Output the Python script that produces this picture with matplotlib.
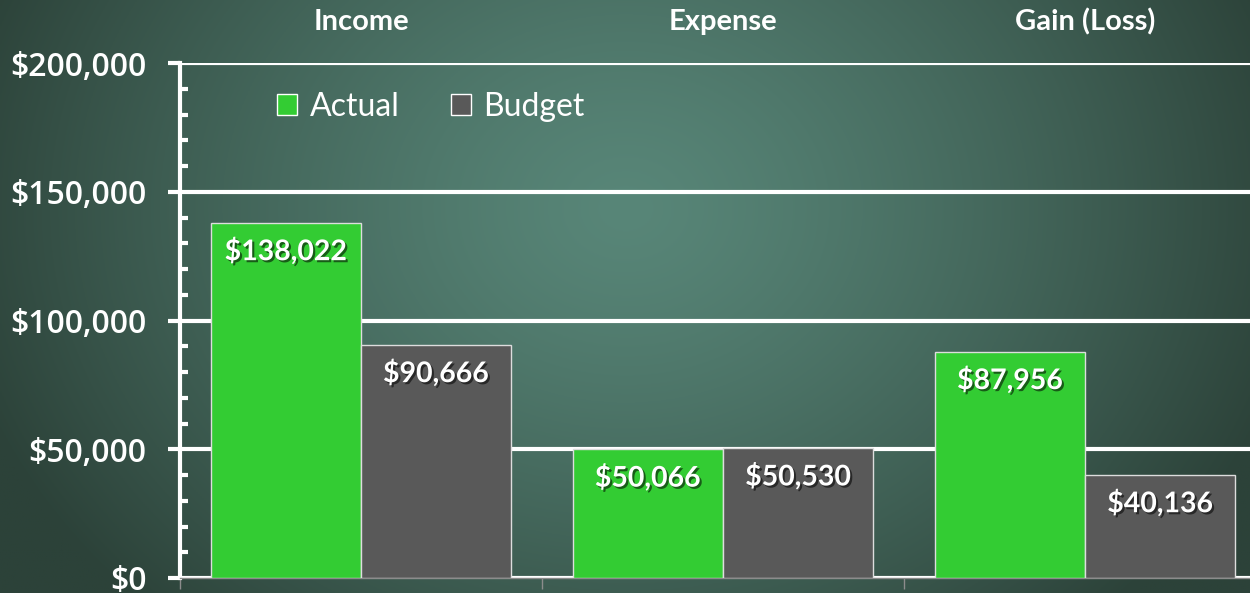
import numpy as np
import matplotlib.pyplot as plt
import matplotlib.patheffects as pe
from matplotlib.ticker import FuncFormatter, MultipleLocator

CATEGORIES = ["Income", "Expense", "Gain (Loss)"]
ACTUAL = [138022, 50066, 87956]
BUDGET = [90666, 50530, 40136]

GREEN = "#33CC33"
GREY = "#595959"
FONT = "Lato"


def draw_background(fig):
    # radial glow like the slide background
    bg = fig.add_axes([0, 0, 1, 1], zorder=-10)
    h, w = 300, 630
    yy, xx = np.mgrid[0:h, 0:w]
    r = np.sqrt(((xx - w * 0.5) / (w * 0.55)) ** 2 + ((yy - h * 0.35) / (h * 0.95)) ** 2)
    r = np.clip(r, 0, 1)
    inner = np.array([0x58, 0x86, 0x78]) / 255
    outer = np.array([0x2C, 0x42, 0x39]) / 255
    img = inner + (outer - inner) * r[..., None] ** 1.3
    bg.imshow(img, aspect="auto", extent=[0, 1, 0, 1], origin="upper")
    bg.axis("off")


def plot_results():
    fig = plt.figure(figsize=(12.5, 5.93), dpi=100)
    draw_background(fig)
    ax = fig.add_axes([0.144, 0.0253, 0.869, 0.8684])
    ax.patch.set_alpha(0)

    x = np.arange(len(CATEGORIES))
    width = 0.415
    bars_a = ax.bar(x - width / 2, ACTUAL, width, color=GREEN, edgecolor="#DDDDDD",
                    linewidth=1, label="Actual", zorder=3)
    bars_b = ax.bar(x + width / 2, BUDGET, width, color=GREY, edgecolor="#DDDDDD",
                    linewidth=1, label="Budget", zorder=3)

    shadow = [pe.SimplePatchShadow(offset=(1.5, -1.5), shadow_rgbFace="black", alpha=0.55),
              pe.Normal()]
    for bars in (bars_a, bars_b):
        for b in bars:
            ax.annotate(f"${b.get_height():,.0f}", (b.get_x() + b.get_width() / 2, b.get_height()),
                        xytext=(0, -20.5), textcoords="offset points", ha="center", va="center",
                        color="white", fontsize=20.5, fontweight="bold", family=FONT,
                        path_effects=shadow, zorder=5)

    ax.set_xlim(-0.5, 2.5)
    ax.set_ylim(0, 200000)
    ax.yaxis.set_major_locator(MultipleLocator(50000))
    ax.yaxis.set_minor_locator(MultipleLocator(10000))
    ax.yaxis.set_major_formatter(FuncFormatter(lambda v, p: f"${v:,.0f}"))
    ax.grid(axis="y", color="white", linewidth=3, zorder=1)
    ax.set_axisbelow(True)

    for s in ("top", "right"):
        ax.spines[s].set_visible(False)
    ax.spines["left"].set_color("white")
    ax.spines["left"].set_linewidth(3)
    ax.spines["bottom"].set_color("#8C8C8C")
    ax.spines["bottom"].set_linewidth(1)

    ax.tick_params(axis="y", which="major", direction="out", length=9, width=3,
                   color="white", labelcolor="white", labelsize=23, pad=15)
    ax.tick_params(axis="y", which="minor", direction="in", length=6, width=3, color="white")
    for lbl in ax.get_yticklabels():
        lbl.set_family("Open Sans")
        lbl.set_fontweight("semibold")

    ax.set_xticks([-0.5, 0.5, 1.5, 2.5])
    ax.set_xticklabels([])
    ax.tick_params(axis="x", direction="out", length=8, width=1, color="#8C8C8C")

    for i, name in enumerate(CATEGORIES):
        ax.text(i, 1.08, name, transform=ax.get_xaxis_transform(), ha="center", va="center",
                color="white", fontsize=21, fontweight="bold", family=FONT)

    leg = ax.legend(loc="upper left", bbox_to_anchor=(0.063, 1.0), ncol=2, frameon=False,
                    handlelength=0.62, handleheight=0.62, handletextpad=0.4, columnspacing=1.6,
                    prop={"family": FONT, "size": 23})
    for t in leg.get_texts():
        t.set_color("white")
    for hnd in leg.legend_handles:
        hnd.set_edgecolor("white")
        hnd.set_linewidth(1)

    plt.savefig("out.png", dpi=100)
    plt.close()


def main():
    plot_results()


if __name__ == "__main__":
    main()
